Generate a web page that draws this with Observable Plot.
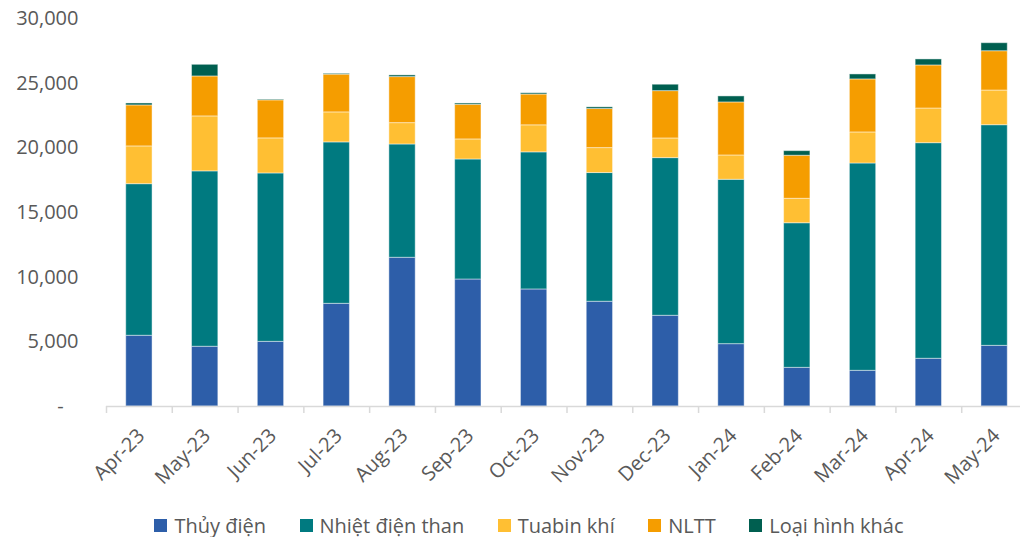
<!DOCTYPE html>
<html>
<head>
<meta charset="utf-8">
<script src="https://cdn.jsdelivr.net/npm/d3@7"></script>
<script src="https://cdn.jsdelivr.net/npm/@observablehq/plot@0.6"></script>
<style>
  html, body { margin: 0; padding: 0; background: #fff; overflow: hidden; }
  #chart svg { overflow: visible; display: block; }
  #legend { display: flex; justify-content: center; align-items: center; height: 29px; padding-top: 3px;
    font-family: "Open Sans", sans-serif; font-size: 20px; color: #595959; padding-left: 38px; }
  .item { display: flex; align-items: center; margin-right: 33.5px; }
  .item:last-child { margin-right: 0; }
  .sw { width: 13px; height: 13px; margin-right: 7px; }
</style>
</head>
<body>
<div id="chart"></div>
<div id="legend"></div>
<script>
const months = ["Apr-23","May-23","Jun-23","Jul-23","Aug-23","Sep-23","Oct-23","Nov-23","Dec-23","Jan-24","Feb-24","Mar-24","Apr-24","May-24"];
const seriesNames = ["Thủy điện","Nhiệt điện than","Tuabin khí","NLTT","Loại hình khác"];
const thuyDien      = [5470, 4620, 5000, 7940, 11500, 9820, 9050, 8100, 7015, 4820, 2990, 2760, 3690, 4690];
const nhietDienThan = [11720, 13560, 13020, 12480, 8760, 9280, 10600, 9950, 12190, 12710, 11180, 16030, 16670, 17060];
const tuabinKhi     = [2920, 4250, 2710, 2320, 1650, 1550, 2090, 1930, 1520, 1880, 1890, 2400, 2680, 2680];
const nltt          = [3170, 3090, 2940, 2920, 3560, 2680, 2380, 3020, 3660, 4100, 3330, 4100, 3330, 3040];
const loaiHinhKhac  = [150, 900, 50, 60, 130, 100, 100, 130, 495, 465, 355, 385, 465, 620];
const yTicks = [0, 5000, 10000, 15000, 20000, 25000, 30000];
const colors = ["#2D5EA9", "#007A80", "#FFBF33", "#F59D00", "#005F50"];

const seriesValues = [thuyDien, nhietDienThan, tuabinKhi, nltt, loaiHinhKhac];
const data = [];
months.forEach((m, i) => {
  seriesNames.forEach((s, j) => data.push({month: m, series: s, value: seriesValues[j][i]}));
});

const W = 1020, H = 508, axisY0 = 406, mTop = 18, xLeft = 106, xRight = 1027;
const step = (xRight - xLeft) / months.length;

const chart = Plot.plot({
  width: W,
  height: H,
  marginTop: mTop,
  marginBottom: H - axisY0,
  marginLeft: xLeft,
  marginRight: 0,
  style: {fontFamily: "'Open Sans', sans-serif", color: "#595959", background: "#fff"},
  x: {domain: months, range: [xLeft, xRight], paddingInner: 0.6, paddingOuter: 0.3, round: false, label: null},
  y: {domain: [0, 30000], label: null},
  color: {domain: seriesNames, range: colors},
  marks: [
    Plot.barY(data, {x: "month", y: "value", fill: "series", stroke: "#fff", strokeOpacity: 0.45, strokeWidth: 1}),
    Plot.ruleY([0], {stroke: "#d9d9d9", strokeWidth: 1.5}),
    Plot.ruleX(months, {x: d => d, dx: -step / 2, stroke: "#d9d9d9", strokeWidth: 1.5, insetTop: axisY0 - mTop, insetBottom: -7}),
    Plot.axisY({ticks: yTicks, tickSize: 0, tickPadding: 28, fontSize: 20, fill: "#595959", label: null,
      tickFormat: d => d === 0 ? "-\u2007\u2009" : d3.format(",")(d)}),
    Plot.axisX({tickSize: 0, tickRotate: -45, tickPadding: 26, fontSize: 20, fill: "#595959", dx: 2, label: null})
  ]
});
document.getElementById("chart").appendChild(chart);

const legend = document.getElementById("legend");
seriesNames.forEach((s, i) => {
  const it = document.createElement("div");
  it.className = "item";
  const sw = document.createElement("div");
  sw.className = "sw";
  sw.style.background = colors[i];
  const t = document.createElement("span");
  t.textContent = s;
  it.appendChild(sw); it.appendChild(t);
  legend.appendChild(it);
});
</script>
</body>
</html>
